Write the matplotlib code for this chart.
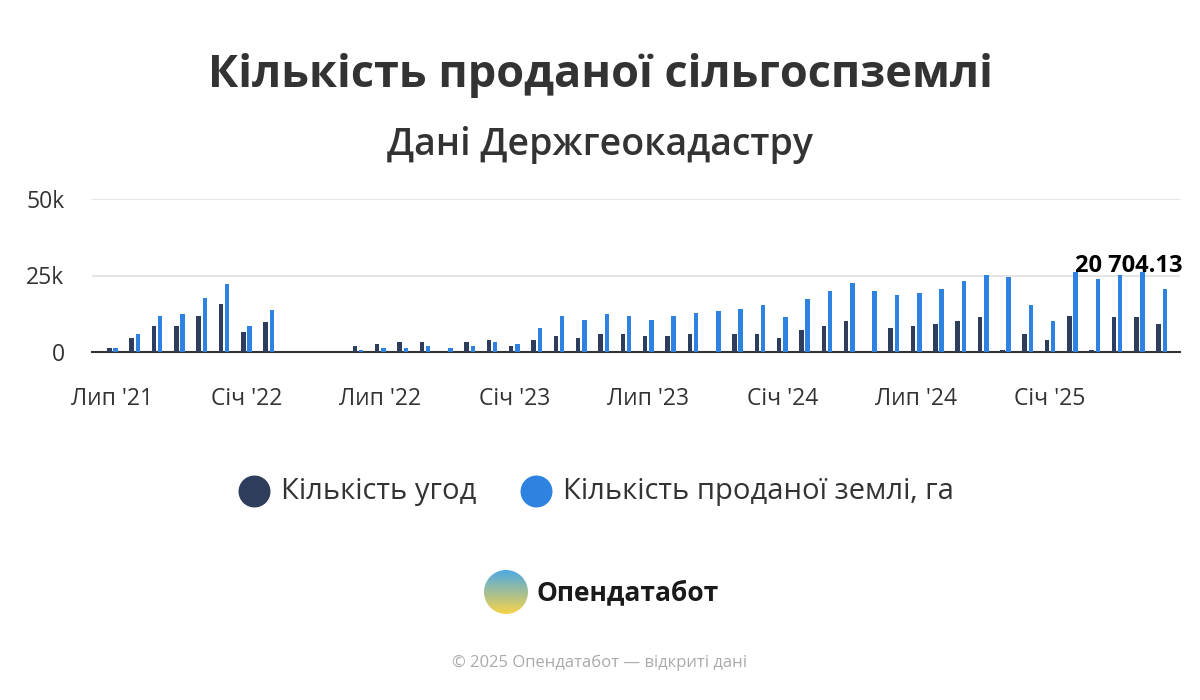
import numpy as np
import matplotlib
matplotlib.use("Agg")
import matplotlib.pyplot as plt
from matplotlib.patches import Circle
from matplotlib.lines import Line2D

months = ["Лип '21","Сер '21","Вер '21","Жов '21","Лис '21","Гру '21","Січ '22","Лют '22","Бер '22","Кві '22","Тра '22",
          "Чер '22","Лип '22","Сер '22","Вер '22","Жов '22","Лис '22","Гру '22","Січ '23","Лют '23","Бер '23","Кві '23","Тра '23","Чер '23",
          "Лип '23","Сер '23","Вер '23","Жов '23","Лис '23","Гру '23","Січ '24","Лют '24","Бер '24","Кві '24","Тра '24","Чер '24",
          "Лип '24","Сер '24","Вер '24","Жов '24","Лис '24","Гру '24","Січ '25","Лют '25","Бер '25","Кві '25","Тра '25","Чер '25"]
nan = np.nan
deals = [1300,4600,8500,8500,11800,15700,6600,9800,nan,nan,nan,
         2000,2600,3300,3300,0,3300,3900,1900,3900,5200,4600,5900,5900,
         5300,5300,6000,0,6000,6000,4600,7300,8600,10000,0,8000,
         8600,9300,10000,11300,700,6000,4000,11900,700,11300,11300,9300]
land = [1300,5900,11800,12500,17700,22300,8500,13800,nan,nan,nan,
        700,1300,1300,2000,1300,2000,3300,2600,7900,11800,10500,12500,11800,
        10600,11900,12600,13300,13900,15300,11300,17300,19900,22600,19900,18600,
        19200,20600,23200,25200,24600,15300,10000,26100,23900,25200,26100,20704.13]
tick_labels = ["Лип '21","Січ '22","Лип '22","Січ '23","Лип '23","Січ '24","Лип '24","Січ '25"]

dark = "#2e3d5c"; blue = "#2e83e0"
fig = plt.figure(figsize=(12,7), dpi=100)
ax = fig.add_axes([0.077, 1-352/700, 0.906, 153/700])
x = np.arange(len(months))
ax.bar(x-0.14, deals, width=0.2, color=dark, zorder=3)
ax.bar(x+0.14, land, width=0.2, color=blue, zorder=3)
ax.set_ylim(0, 50000)
ax.set_xlim(-0.9, len(months)-0.2)
ax.set_yticks([0,25000,50000]); ax.set_yticklabels(["0","25k","50k"])
ax.grid(axis="y", color="#e0e0e0", lw=1.2, zorder=0)
for s in ["top","right","left"]: ax.spines[s].set_visible(False)
ax.spines["bottom"].set_color("#333333"); ax.spines["bottom"].set_linewidth(1.5)
ax.set_xticks([months.index(t) for t in tick_labels]); ax.set_xticklabels(tick_labels)
ax.tick_params(axis="both", length=0, labelsize=16.5, colors="#333333", labelfontfamily="Open Sans")
ax.tick_params(axis="x", pad=25)
ax.tick_params(axis="y", pad=20)
ax.annotate(f"{land[-1]:,.2f}".replace(",", " "), (x[-1]+0.14, land[-1]), xytext=(13, 8),
            textcoords="offset points", ha="right", va="bottom", fontsize=17, fontweight="bold",
            family="Open Sans", color="black", zorder=5)

fig.text(0.5, 1-75/700, "Кількість проданої сільгоспземлі", ha="center", va="center",
         fontsize=32.5, fontweight="bold", family="Open Sans", color="#333333")
fig.text(0.5, 1-145/700, "Дані Держгеокадастру", ha="center", va="center",
         fontsize=27, fontweight="semibold", family="Open Sans", color="#333333")
# legend
fig.add_artist(Line2D([254/1200], [1-491/700], marker="o", markersize=22, color=dark, transform=fig.transFigure))
fig.text(281/1200, 1-492/700, "Кількість угод", va="center", fontsize=21, family="Open Sans", color="#333333")
fig.add_artist(Line2D([536/1200], [1-491/700], marker="o", markersize=22, color=blue, transform=fig.transFigure))
fig.text(563/1200, 1-492/700, "Кількість проданої землі, га", va="center", fontsize=21, family="Open Sans", color="#333333")
# logo
lax = fig.add_axes([484/1200, 1-614/700, 44/1200, 44/700]); lax.axis("off")
grad = np.linspace(0,1,100)[:,None]*np.ones((1,100))
from matplotlib.colors import LinearSegmentedColormap
cm = LinearSegmentedColormap.from_list("g", ["#4aa8e8","#f5d34a"])
im = lax.imshow(grad, cmap=cm, extent=[0,1,0,1], origin="upper", aspect="auto")
circ = Circle((0.5,0.5), 0.5, transform=lax.transData); im.set_clip_path(circ)
lax.set_xlim(0,1); lax.set_ylim(0,1)
fig.text(536/1200, 1-593/700, "Опендатабот", va="center", fontsize=19, fontweight="bold", family="Open Sans", color="#1a1a1a")
fig.text(0.5, 1-663/700, "© 2025 Опендатабот — відкриті дані", ha="center", va="center", fontsize=12,
         family="Open Sans", color="#aaaaaa")
fig.savefig("out.png", dpi=100, facecolor="white")
